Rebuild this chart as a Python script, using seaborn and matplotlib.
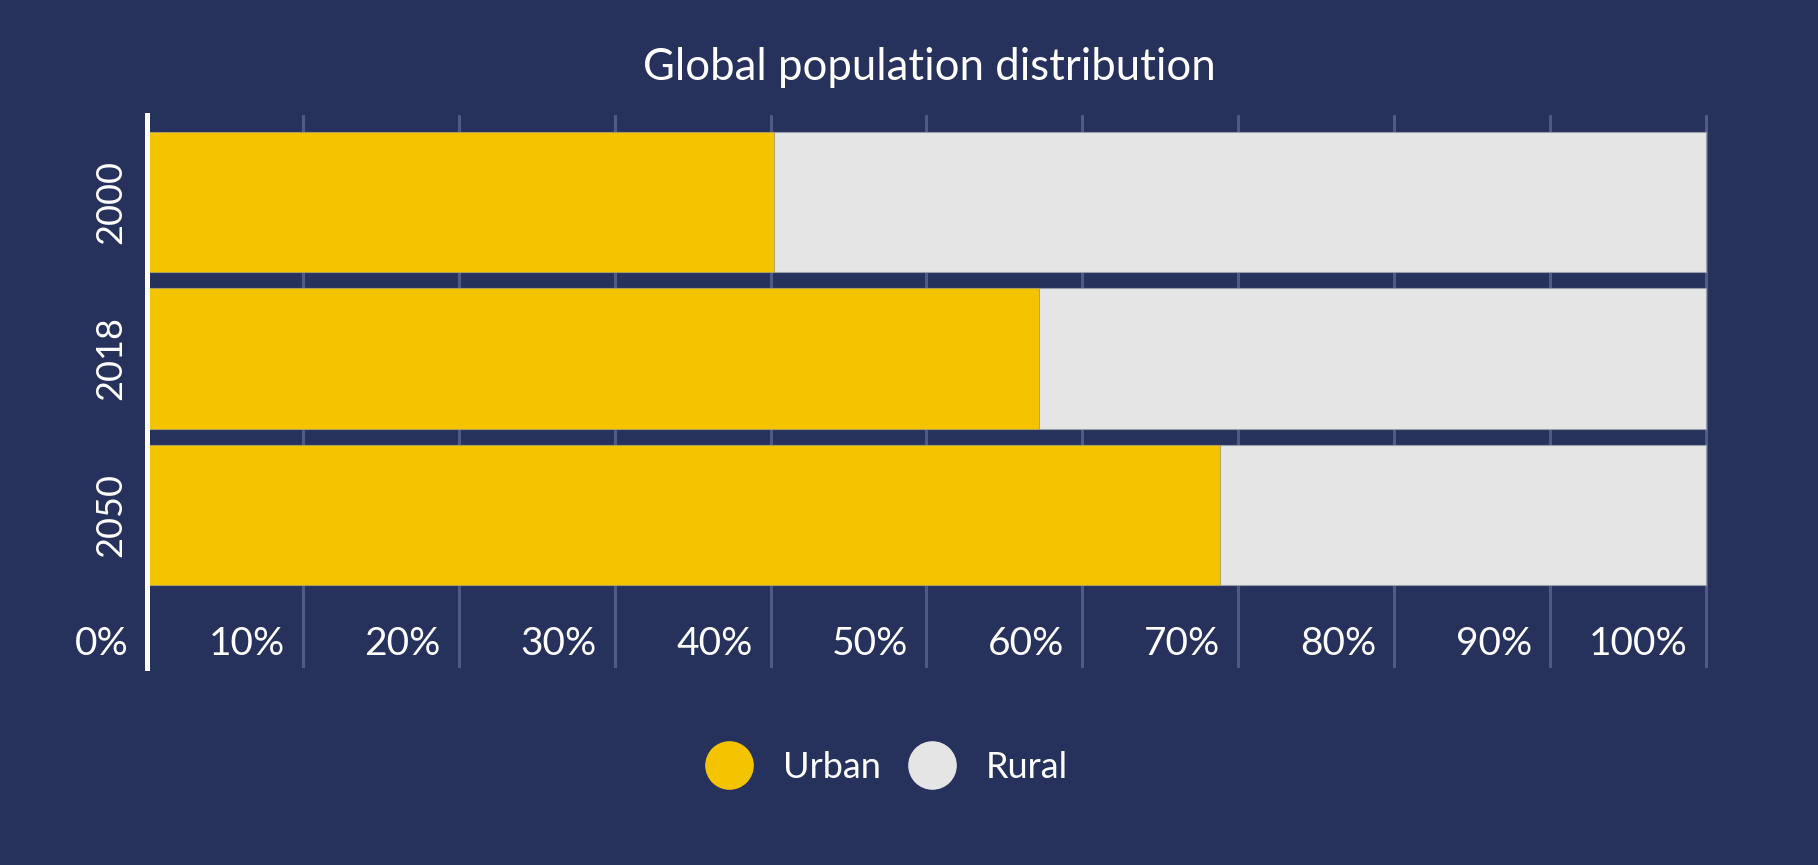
import matplotlib
matplotlib.use("Agg")
import matplotlib.pyplot as plt
import matplotlib.transforms as mtransforms
from matplotlib.lines import Line2D
import seaborn as sns
import pandas as pd

# ---- data ----
years = ["2000", "2018", "2050"]
urban = [40.2, 57.2, 68.8]
rural = [59.8, 42.8, 31.2]
xticks = [0, 10, 20, 30, 40, 50, 60, 70, 80, 90, 100]
xtick_labels = ["0%", "10%", "20%", "30%", "40%", "50%", "60%", "70%", "80%", "90%", "100%"]
title = "Global population distribution"
series_names = ["Urban", "Rural"]

BG = "#26315c"
URBAN_C = "#f5c400"
RURAL_C = "#e5e5e5"
GRID_C = "#4f5b83"
FONT = ["Lato", "DejaVu Sans"]

sns.set_theme(style="white")
plt.rcParams["font.family"] = FONT

df = pd.DataFrame({"year": years, "urban": urban, "rural": rural})
df["total"] = df["urban"] + df["rural"]

W, H, DPI = 1818, 865, 100
fig = plt.figure(figsize=(W / DPI, H / DPI), dpi=DPI, facecolor=BG)
left, right, top, bottom = 147, 1709, 115, 668
ax = fig.add_axes([left / W, 1 - bottom / H, (right - left) / W, (bottom - top) / H])
ax.set_facecolor(BG)

sns.barplot(data=df, x="total", y="year", order=years, color=RURAL_C, width=0.895,
            orient="h", ax=ax, edgecolor="#9a9fae", linewidth=0.8, saturation=1)
sns.barplot(data=df, x="urban", y="year", order=years, color=URBAN_C, width=0.895,
            orient="h", ax=ax, edgecolor="#a89a60", linewidth=0.6, saturation=1)

ax.set_xlim(0, 100.2)
ax.set_ylim(2.978, -0.556)
ax.set_xlabel("")
ax.set_ylabel("")

ax.set_axisbelow(True)
ax.set_xticks(xticks)
ax.set_xticklabels(xtick_labels)
ax.xaxis.grid(True, color=GRID_C, linewidth=2.2)
ax.yaxis.grid(False)

for s in ["top", "right", "bottom"]:
    ax.spines[s].set_visible(False)
ax.spines["left"].set_color("white")
ax.spines["left"].set_linewidth(3.6)
ax.spines["left"].set_zorder(5)

ax.tick_params(axis="x", length=0, pad=-30, labelsize=28, labelcolor="white")
ax.tick_params(axis="y", length=0, pad=26, labelsize=26, labelcolor="white")
offset = mtransforms.ScaledTranslation(-18 / DPI, 0, fig.dpi_scale_trans)
for lab in ax.get_xticklabels():
    lab.set_horizontalalignment("right")
    lab.set_verticalalignment("top")
    lab.set_transform(lab.get_transform() + offset)
for lab in ax.get_yticklabels():
    lab.set_rotation(90)
    lab.set_verticalalignment("center")
    lab.set_horizontalalignment("center")

fig.text(929 / W, 1 - 80 / H, title, ha="center", va="baseline", color="white", fontsize=31.5)

handles = [Line2D([], [], marker="o", linestyle="none", markersize=34, markerfacecolor=c,
                  markeredgecolor=c) for c in [URBAN_C, RURAL_C]]
leg = fig.legend(handles, series_names, loc="center", bbox_to_anchor=(887 / W, 1 - 767 / H),
                 ncol=2, frameon=False, fontsize=26, handlelength=1.3, handletextpad=0.85,
                 columnspacing=0.75, borderpad=0)
for t in leg.get_texts():
    t.set_color("white")

fig.savefig("out.png", dpi=DPI, facecolor=BG)
